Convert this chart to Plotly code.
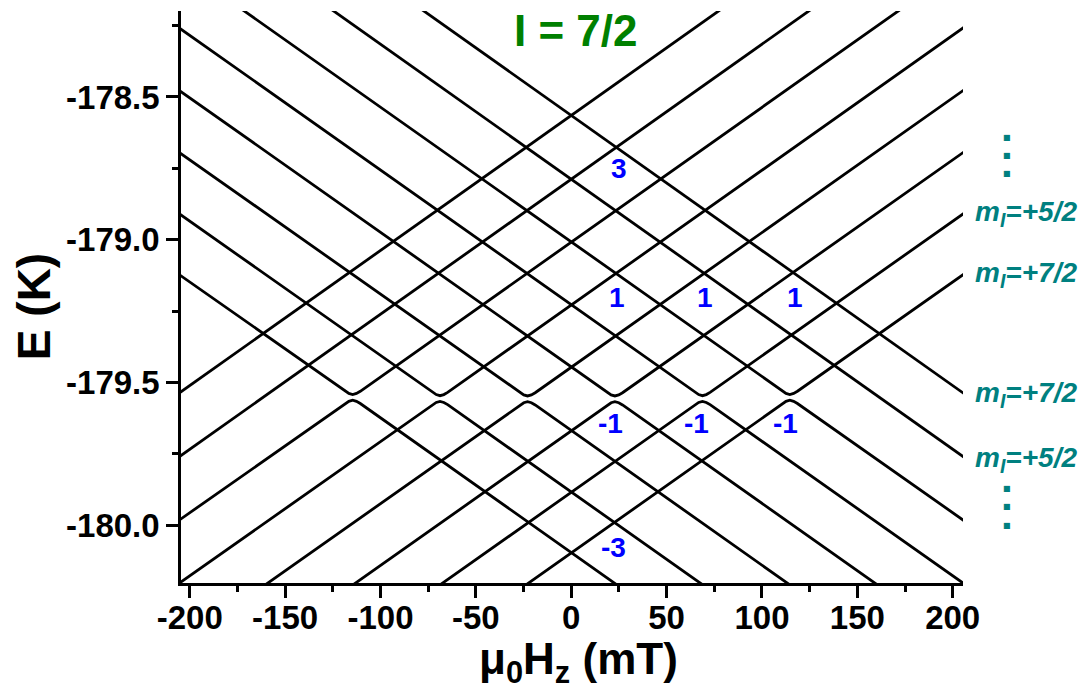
import plotly.graph_objects as go

# Zeeman diagram, I = 7/2 : energy levels vs field
# branch energies at the field edges (mT, K)
field_edges = [-206.0, 206.0]

# anticrossings (centre field, centre energy)
ac_field = [-114.6, -68.8, -22.9, 22.9, 68.8, 114.6]
ac_energy = [-179.552, -179.556, -179.557, -179.557, -179.556, -179.552]

# upper (V) branches: energy at left / right edge
upper_left = [-179.120, -178.907, -178.692, -178.475, -178.256, -178.036]
upper_right = [-178.036, -178.256, -178.475, -178.692, -178.907, -179.120]
# lower (inverted V) branches
lower_left = [-179.984, -180.205, -180.423, -180.640, -180.855, -181.068]
lower_right = [-181.068, -180.855, -180.640, -180.423, -180.205, -179.984]

# rounded tip of each anticrossing (field offset, energy offset)
corner_db = [-4.0, -2.0, 0.0, 2.0, 4.0]
corner_de = [0.0214, 0.0138, 0.0100, 0.0138, 0.0214]

# levels without anticrossing
straight_left = [-179.539, -179.762, -177.590, -177.814]
straight_right = [-177.590, -177.814, -179.539, -179.762]

x_ticks = [-200, -150, -100, -50, 0, 50, 100, 150, 200]
x_ticklabels = ["-200", "-150", "-100", "-50", "0", "50", "100", "150", "200"]
y_ticks = [-180.0, -179.5, -179.0, -178.5]
y_ticklabels = ["-180.0", "-179.5", "-179.0", "-178.5"]

# crossing labels (field, energy, text)
cross_lbl_x = [24.8, 23.9, 70.2, 117.4, 20.4, 65.9, 112.5, 21.9]
cross_lbl_y = [-178.751, -179.203, -179.203, -179.203, -179.644, -179.644, -179.644, -180.076]
cross_lbl_txt = ["3", "1", "1", "1", "-1", "-1", "-1", "-3"]

# m_I labels on the right (paper y), and ellipsis dots
mi_lbl_y = [0.6463, 0.5385, 0.3287, 0.2163]
mi_lbl_txt = ["+5/2", "+7/2", "+7/2", "+5/2"]
dot_y = [0.7785, 0.7475, 0.7157, 0.1650, 0.1329, 0.1009]

LINE = dict(color="black", width=2.8)
FONT = "Liberation Sans, Arial, sans-serif"

fig = go.Figure()

for i in range(len(ac_field)):
    xs = [field_edges[0]] + [ac_field[i] + d for d in corner_db] + [field_edges[1]]
    y_up = [upper_left[i]] + [ac_energy[i] + e for e in corner_de] + [upper_right[i]]
    y_lo = [lower_left[i]] + [ac_energy[i] - e for e in corner_de] + [lower_right[i]]
    fig.add_trace(go.Scatter(x=xs, y=y_up, mode="lines", line=LINE))
    fig.add_trace(go.Scatter(x=xs, y=y_lo, mode="lines", line=LINE))

for yl, yr in zip(straight_left, straight_right):
    fig.add_trace(go.Scatter(x=field_edges, y=[yl, yr], mode="lines", line=LINE))

for x, y, t in zip(cross_lbl_x, cross_lbl_y, cross_lbl_txt):
    fig.add_annotation(x=x, y=y, text=t, showarrow=False, xanchor="center", yanchor="middle",
                       font=dict(family=FONT, size=28, color="#0000ff", weight="bold"))

# title
fig.add_annotation(xref="paper", yref="paper", x=0.505, y=0.966, text="I = 7/2",
                   xanchor="center", yanchor="middle", showarrow=False,
                   font=dict(family=FONT, size=44, color="#008000", weight="bold"))

# axis titles
fig.add_annotation(xref="paper", yref="paper", x=0.508, y=-0.138,
                   text="\u03bc<sub>0</sub>H<sub>z</sub> (mT)", showarrow=False,
                   xanchor="center", yanchor="middle",
                   font=dict(family=FONT, size=44, color="black", weight="bold"))
fig.add_annotation(xref="paper", yref="paper", x=-0.188, y=0.484, text="E (K)",
                   textangle=-90, showarrow=False, xanchor="center", yanchor="middle",
                   font=dict(family=FONT, size=46, color="black", weight="bold"))

# m_I labels
for y, t in zip(mi_lbl_y, mi_lbl_txt):
    fig.add_annotation(xref="paper", yref="paper", x=1.0124, y=y, xanchor="left",
                       yanchor="middle", text="<i>m<sub>I</sub>=" + t + "</i>",
                       showarrow=False,
                       font=dict(family=FONT, size=28, color="#008080", weight="bold"))
for y in dot_y:
    fig.add_annotation(xref="paper", yref="paper", x=1.0559, y=y, text="\u25a0",
                       xanchor="center", yanchor="middle", showarrow=False,
                       font=dict(family="DejaVu Sans", size=8, color="#008080"))

axis_common = dict(showline=True, linecolor="black", linewidth=2.5, ticks="outside",
                   ticklen=12, tickwidth=2.5, tickcolor="black", showgrid=False,
                   zeroline=False,
                   tickfont=dict(family=FONT, size=33, color="black", weight="bold"))

fig.update_xaxes(range=[-204.6, 205.4], tickvals=x_ticks, ticktext=x_ticklabels,
                 ticklabelstandoff=-8,
                 minor=dict(dtick=25, tick0=0, ticklen=6, tickwidth=2.5, ticks="outside",
                            tickcolor="black"),
                 **axis_common)
fig.update_yaxes(range=[-180.202, -178.199], tickvals=y_ticks, ticktext=y_ticklabels,
                 ticklabelstandoff=0,
                 minor=dict(dtick=0.25, tick0=-180, ticklen=6, tickwidth=2.5, ticks="outside",
                            tickcolor="black"),
                 **axis_common)

# the page body adds 8 px around the plot div, so margins are shifted to compensate
fig.update_layout(width=1088, height=686, showlegend=False, hovermode=False,
                  plot_bgcolor="white", paper_bgcolor="white",
                  margin=dict(l=173, r=133, t=3, b=111))

fig.write_html("out.html")
